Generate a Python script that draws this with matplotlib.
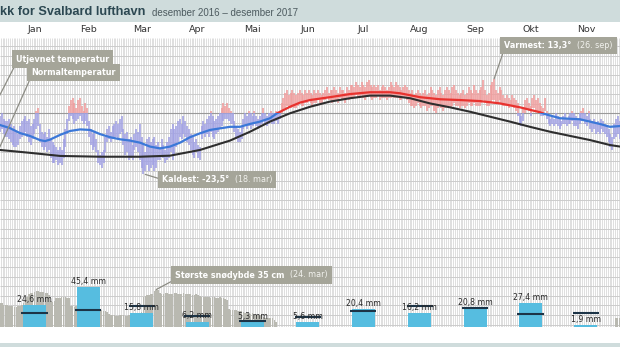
import numpy as np
import matplotlib
matplotlib.use("Agg")
import matplotlib.pyplot as plt
from matplotlib.patches import Rectangle
from matplotlib.transforms import blended_transform_factory
from matplotlib.offsetbox import TextArea, HPacker, AnnotationBbox

# ---------------- data ----------------
months = ["Jan", "Feb", "Mar", "Apr", "Mai", "Jun", "Jul", "Aug", "Sep", "Okt", "Nov"]
month_start = [0, 31, 59, 90, 120, 151, 181, 212, 243, 273, 304]   # day of year 2017
month_len = [31, 28, 31, 30, 31, 30, 31, 31, 30, 31, 30]
precip_mm = [24.6, 45.4, 15.8, 6.2, 5.3, 5.6, 20.4, 16.2, 20.8, 27.4, 1.9]
precip_normal_mm = [15.6, 19.5, 24.0, 12.0, 6.5, 11.5, 18.5, 24.0, 21.0, 14.5, 15.5]

# daily max / min temperature, first value = 27 Dec 2016 (day -4)
temp_first_day = -4
tmax = [-1, 0, -2, -3,
        -3, -2, -4, -6, -5, -7, -8, -5, -3, -2,
        -1, -3, -2, -5, -4, -2, 1, 2, -4, -7,
        -8, -7, -9, -6, -10, -11, -12, -13, -14, -13,
        -14, -10, -6, -2, 3, 5, 6, 4, 2, 5,
        6, 3, 1, 4, 2, -3, -6, -8, -7, -10,
        -14, -16, -15, -14, -9, -6, -5, -7, -5, -4,
        -3, -4, -2, -1, -6, -8, -7, -10, -9, -12,
        -8, -6, -7, -4, -9, -12, -15, -10, -9, -11,
        -10, -9, -12, -11, -13, -10, -12, -14, -11, -9,
        -6, -4, -6, -5, -3, -2, -4, -1, -3, -5,
        -6, -8, -9, -11, -10, -12, -13, -5, -3, -4,
        -2, -1, 1, -1, -3, -2, -1, 0, 2, 4,
        3, 4, 2, 1, 0, -3, -5, -6, -7, -5,
        -2, 0, -1, 1, 0, -1, 1, -1, -2, -1,
        0, 2, 0, -1, 0, 1, 0, 0, 1, 0,
        1, 4, 6, 8, 9, 7, 8, 9, 8, 7,
        8, 9, 8, 7, 9, 8, 9, 8, 7, 9,
        8, 9, 8, 7, 8, 9, 10, 8, 9, 9,
        10, 9, 8, 10, 9, 9, 8, 10, 9, 11,
        11, 10, 12, 11, 10, 12, 11, 10, 12, 13,
        11, 10, 11, 10, 11, 9, 10, 11, 10, 9,
        10, 12, 11, 10, 12, 11, 10, 9, 10, 11,
        10, 9, 8, 9, 7, 8, 9, 8, 7, 8,
        9, 7, 8, 10, 9, 8, 7, 9, 10, 8,
        7, 9, 10, 9, 8, 10, 11, 9, 8, 7,
        8, 9, 7, 8, 10, 9, 8, 11, 9, 8,
        9, 10, 13, 9, 7, 8, 11, 12, 13.3, 9,
        8, 10, 9, 7, 6, 7, 6, 5, 7, 6,
        5, 4, 0, -1, 2, 5, 6, 4, 3, 6,
        7, 5, 6, 4, 3, 2, 6, 1, -1, -2,
        -1, -2, 0, -1, -2, -3, -1, 0, -2, -1,
        0, 1, 0, -1, -2, 0, 1, 2, 0, -1,
        1, -2, -3, -2, -4, -3, -4, -2, -3, -4,
        -5, -6, -8, -9, -4, -2, -1, -3, -4]
tmin = [-7, -6, -8, -9,
        -9, -10, -11, -12, -13, -13, -12, -10, -9, -8,
        -7, -9, -11, -12, -10, -8, -6, -5, -11, -13,
        -14, -13, -15, -14, -17, -19, -19, -18, -20, -19,
        -20, -17, -13, -8, -3, -1, -2, -4, -3, -2,
        -1, -3, -4, -3, -5, -9, -12, -14, -13, -15,
        -19, -20, -21, -19, -15, -11, -10, -11, -10, -9,
        -9, -10, -8, -7, -12, -16, -15, -18, -17, -18,
        -14, -13, -15, -18, -21, -23.5, -22, -20, -22, -21,
        -20, -22, -21, -18, -18, -16, -17, -19, -18, -17,
        -15, -18, -16, -13, -11, -9, -10, -8, -9, -11,
        -12, -14, -16, -17, -15, -17, -18, -10, -8, -9,
        -8, -9, -7, -9, -10, -8, -7, -6, -5, -3,
        -2, -2, -3, -4, -4, -7, -10, -11, -11, -10,
        -6, -5, -6, -5, -6, -5, -4, -5, -6, -5,
        -4, -3, -4, -5, -4, -3, -4, -4, -3, -4,
        -2, 0, 1, 2, 3, 2, 2, 3, 2, 2,
        3, 4, 3, 3, 4, 4, 5, 4, 3, 4,
        4, 5, 4, 4, 5, 5, 6, 5, 5, 4,
        5, 5, 4, 6, 5, 5, 4, 6, 5, 6,
        6, 6, 7, 6, 6, 7, 6, 5, 7, 7,
        6, 5, 6, 6, 7, 5, 6, 6, 6, 5,
        6, 6, 7, 6, 6, 6, 5, 5, 6, 6,
        5, 4, 3, 3, 2, 3, 4, 3, 2, 3,
        3, 1, 2, 3, 3, 1, 0, 2, 3, 2,
        1, 2, 3, 3, 2, 3, 4, 3, 3, 2,
        3, 3, 2, 3, 4, 3, 3, 4, 3, 3,
        3, 4, 5, 4, 3, 3, 4, 5, 5, 4,
        4, 5, 4, 3, 3, 3, 2, 3, 3, 2,
        1, -1, -4, -5, -3, 0, 2, 1, -1, 2,
        2, 1, 1, 0, -1, -1, 1, -2, -4, -5,
        -4, -5, -4, -5, -6, -5, -4, -4, -5, -4,
        -4, -3, -5, -5, -6, -4, -3, -2, -4, -5,
        -3, -6, -7, -6, -8, -7, -8, -6, -7, -8,
        -9, -11, -13, -14, -10, -9, -8, -10, -10]

# smoothed temperature ("Utjevnet temperatur")
smooth_day = [-3.5, 2, 7.5, 13, 18.5, 21.3, 24.1, 29.6, 35.1, 40.6, 46.1, 51.6, 57.1, 62.6,
              68.1, 73.6, 79.1, 84.6, 90.1, 95.6, 101.1, 106.6, 112.1, 117.6, 123.1, 128.6,
              134.1, 139.6, 145.1, 149, 156.1, 161.6, 167.1, 178.1, 189.2, 200.2, 211.2,
              216.7, 227.7, 238.7, 249.7, 260.7, 271.7, 282.7, 293.7, 296.5, 304.7, 315.7,
              326.7, 332.2, 337.8]
smooth_temp = [-4.5, -5.7, -7.6, -8.7, -10.3, -10.7, -10.1, -8.3, -6.8, -6.2, -6.4, -8.0, -9.2,
               -10.0, -10.5, -11.3, -12.8, -13.5, -12.8, -11.3, -9.2, -7.7, -6.4, -5.8, -5.2,
               -5.2, -4.1, -3.2, -1.9, 0.0, 2.5, 4.1, 5.1, 6.2, 7.4, 8.1, 8.1, 7.7, 6.2, 5.4,
               5.1, 4.7, 3.8, 2.3, 0.4, -0.3, -1.9, -2.3, -4.1, -5.2, -4.9]

# normal temperature
normal_day = [-3.5, 13, 29.6, 51.6, 73.6, 90.1, 106.6, 123.1, 134.1, 145.1, 156.1, 167.1, 178.1,
              189.2, 200.2, 211.2, 222.2, 233.2, 244.2, 255.2, 266.2, 277.2, 288.2, 299.3,
              310.3, 321.3, 332.2, 337.8]
normal_temp = [-14.1, -15.2, -16.4, -16.7, -16.7, -16.3, -14.1, -10.5, -7.1, -3.2, 0.0, 2.5,
               4.5, 5.8, 6.8, 6.8, 5.8, 3.8, 2.3, 0.6, -1.3, -3.2, -5.2, -7.1, -8.7, -10.3,
               -12.2, -12.8]

# snow depth (cm), first value = 27 Dec 2016
snow_first_day = -4
snow_cm = [22, 22, 21, 21, 21,
           20, 20, 20, 19, 19, 20, 20, 21, 22,
           24, 28, 31, 32, 32, 33, 34, 34, 33, 33,
           33, 32, 32, 30, 24, 23, 24, 27, 27, 27,
           28, 28, 28, 27, 27, 20, 20, 19, 20, 20,
           21, 22, 22, 22, 22, 21, 21, 20, 20, 19,
           18, 17, 16, 15, 15, 14, 12, 11, 11, 11,
           10, 10, 11, 11, 11, 10, 10, 11, 12, 12,
           12, 12, 12, 13, 14, 28, 29, 30, 30, 31,
           31, 34, 35, 35, 32, 31, 31, 32, 32, 31,
           31, 31, 32, 32, 31, 31, 31, 32, 31, 31,
           31, 31, 30, 30, 31, 30, 29, 28, 28, 28,
           28, 28, 27, 28, 28, 27, 27, 28, 27, 27,
           26, 25, 17, 16, 16, 16, 16, 15, 15, 15,
           14, 13, 13, 12, 12, 13, 12, 11, 11, 11,
           10, 9, 8, 8, 8, 8, 8, 7, 5]
snow_dec_first_day = 335
snow_dec_cm = [8, 8, 8]

# ---------------- layout (pixels) ----------------
W, H = 620, 349
X_JAN1 = 6.3          # pixel x of 1 Jan 2017
PX_DAY = 1.817
Y_ZERO = 113.3
PX_C = 2.6
Y_TOP, Y_BASE = 37.5, 327.0
PX_MM = 0.885
PX_CM = 1.07

BAND = "#cfdcdc"
fig = plt.figure(figsize=(W / 100, H / 100), dpi=100)
fig.patch.set_facecolor("white")

bg = fig.add_axes([0, 0, 1, 1])
bg.set_xlim(0, W)
bg.set_ylim(H, 0)
bg.axis("off")
bg.add_patch(Rectangle((0, 0), W, 21.5, color=BAND, lw=0))
bg.add_patch(Rectangle((0, 343), W, 4, color=BAND, lw=0))
bg.text(0, 12, "kk for Svalbard lufthavn", fontsize=9.2, fontweight="bold",
        color="#2c4852", va="center", ha="left", family="Liberation Sans")
bg.text(152, 13, "desember 2016 \u2013 desember 2017", fontsize=7.0,
        color="#4d5b60", va="center", ha="left", family="Liberation Sans")

pos = [0, (H - Y_BASE) / H, 1, (Y_BASE - Y_TOP) / H]
ax = fig.add_axes(pos)
x0 = -X_JAN1 / PX_DAY
x1 = (W - X_JAN1) / PX_DAY
ax.set_xlim(x0, x1)
ax.set_ylim((Y_ZERO - Y_BASE) / PX_C, (Y_ZERO - Y_TOP) / PX_C)
for s in ax.spines.values():
    s.set_visible(False)
ax.set_xticks([])
ax.set_yticks([])

# grid
ymin, ymax = ax.get_ylim()
ax.vlines(np.arange(-4, 340), ymin, ymax, colors="#d6d6d6", lw=0.55, zorder=0)
step = 9.6 / PX_C
ks = np.arange(-25, 10)
hl = ks * step
hl = hl[(hl > ymin) & (hl < ymax)]
ax.hlines(hl[hl != 0], x0, x1, colors="#cccccc", lw=0.7, zorder=0.5)
ax.axhline(0, color="#999999", lw=0.8, zorder=0.6)

# month labels
trans_m = blended_transform_factory(ax.transData, bg.transData)
for m, s0, ln in zip(months, month_start, month_len):
    bg.text(s0 + ln / 2, 30, m, transform=trans_m, ha="center", va="center",
            fontsize=6.8, color="#333333", family="DejaVu Sans")

# daily temperature bars
tmax_a = np.array(tmax, float)
tmin_a = np.array(tmin, float)
days = temp_first_day + np.arange(len(tmax_a)) + 0.5
p = tmax_a > 0
ax.vlines(days[p], np.maximum(tmin_a[p], 0), tmax_a[p], colors="#f09d9d", lw=1.15, zorder=2)
n = tmin_a < 0
ax.vlines(days[n], tmin_a[n], np.minimum(tmax_a[n], 0), colors="#a1a1e4", lw=1.15, zorder=2)

# normal temperature
ax.plot(normal_day, normal_temp, color="#2e2e2e", lw=1.5, zorder=3, solid_capstyle="round")

# smoothed temperature, red above 0 / blue below 0
red_line, = ax.plot(smooth_day, smooth_temp, color="#e8322e", lw=1.6, zorder=4)
blue_line, = ax.plot(smooth_day, smooth_temp, color="#3b78d8", lw=1.6, zorder=4)
red_line.set_clip_path(Rectangle((x0, 0), x1 - x0, ymax, transform=ax.transData))
blue_line.set_clip_path(Rectangle((x0, ymin), x1 - x0, -ymin, transform=ax.transData))

# snow depth
axs = ax.twinx()
axs.set_ylim(0, (Y_BASE - Y_TOP) / PX_CM)
axs.axis("off")
sd = snow_first_day + np.arange(len(snow_cm)) + 0.5
axs.bar(sd, snow_cm, width=0.85, color="#b9b9b1", lw=0, zorder=1)
sd2 = snow_dec_first_day + np.arange(len(snow_dec_cm)) + 0.5
axs.bar(sd2, snow_dec_cm, width=0.85, color="#b9b9b1", lw=0, zorder=1)

# precipitation
axp = ax.twinx()
axp.set_ylim(0, (Y_BASE - Y_TOP) / PX_MM)
axp.axis("off")
mid = np.array(month_start) + np.array(month_len) / 2
axp.bar(mid, precip_mm, width=12.7, color="#56bde0", lw=0, zorder=2)
axp.hlines(precip_normal_mm, mid - 7.2, mid + 7.2, colors="#1c3447", lw=1.5, zorder=3)
for xm, v in zip(mid, precip_mm):
    axp.annotate(f"{v:.1f}".replace(".", ",") + " mm", xy=(xm, v), xytext=(0, 0.8),
                 textcoords="offset points", ha="center", va="bottom", fontsize=5.6,
                 color="#2a2a2a", zorder=4)


# annotations
def label(axis, bold, normal, xy, txy, relpos=(0, 0.5)):
    parts = [TextArea(bold, textprops=dict(fontsize=5.8, fontweight="bold", color="white"))]
    if normal:
        parts.append(TextArea(normal, textprops=dict(fontsize=5.8, color="#f2f2ee")))
    box = HPacker(children=parts, align="center", pad=0, sep=4)
    ab = AnnotationBbox(box, xy, xybox=txy, xycoords=axis.transData, boxcoords=bg.transData,
                        box_alignment=(0, 0.5), frameon=True, pad=0.22,
                        bboxprops=dict(boxstyle="square", fc="#a5a599", ec="none"),
                        arrowprops=dict(arrowstyle="-", color="#8c8c84", lw=0.9,
                                        shrinkA=0, shrinkB=0, relpos=relpos),
                        annotation_clip=False, zorder=10)
    axis.add_artist(ab)
    return ab


label(ax, "Utjevnet temperatur", "", (-12.0, -4.5), (16, 59), relpos=(0, 0))
label(ax, "Normaltemperatur", "", (-4.3, -14.1), (31, 72.5), relpos=(0, 0))
label(ax, "Kaldest: -23,5\u00b0", "(18. mar)", (76.5, -23.5), (162, 179.5))
label(ax, "Varmest: 13,3\u00b0", "(26. sep)", (268.5, 13.3), (504, 45.5), relpos=(0, 0))
label(axs, "St\u00f8rste sn\u00f8dybde 35 cm", "(24. mar)", (82.5, 35), (175, 275), relpos=(0, 0))

fig.savefig("out.png", dpi=100, facecolor="white")
